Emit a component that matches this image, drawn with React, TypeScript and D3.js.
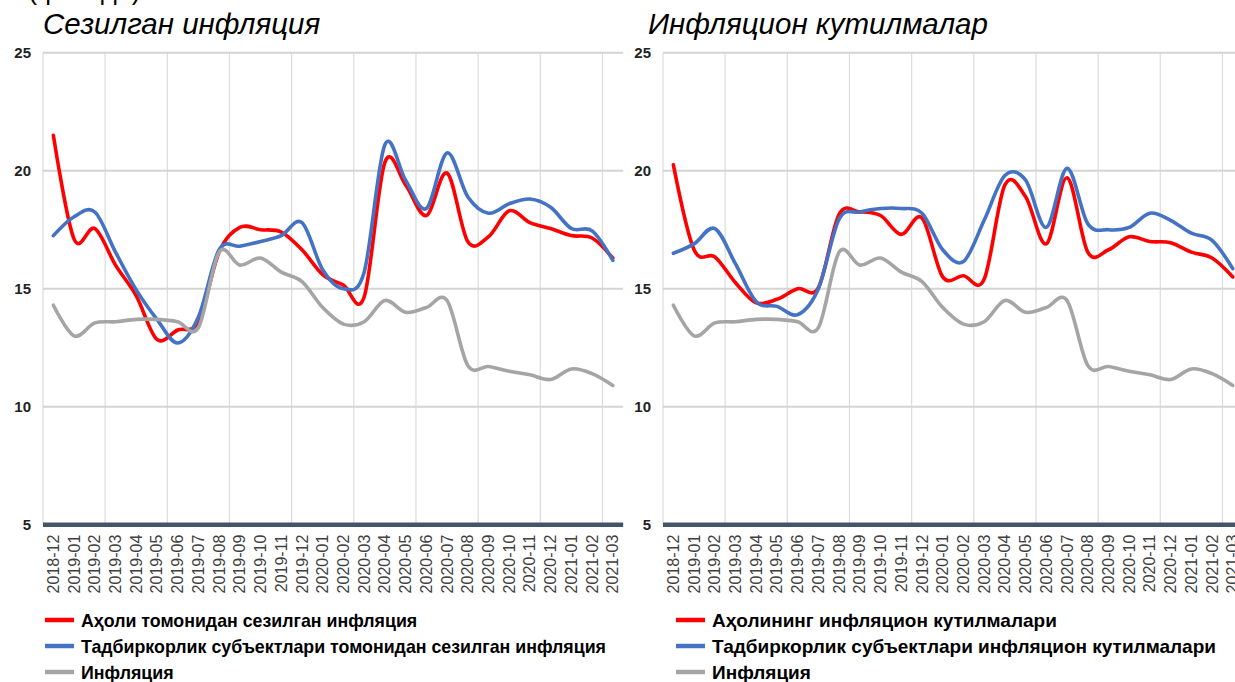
import React from 'react';
import * as d3 from 'd3';

// monthly observations, 2018-12 .. 2021-03
const months = [
  '2018-12', '2019-01', '2019-02', '2019-03', '2019-04', '2019-05', '2019-06',
  '2019-07', '2019-08', '2019-09', '2019-10', '2019-11', '2019-12', '2020-01',
  '2020-02', '2020-03', '2020-04', '2020-05', '2020-06', '2020-07', '2020-08',
  '2020-09', '2020-10', '2020-11', '2020-12', '2021-01', '2021-02', '2021-03',
];

// left panel: perceived inflation
const perceivedHouseholds = [
  21.5, 17.1, 17.55, 16.0, 14.7, 12.85, 13.25, 13.6, 16.55, 17.6, 17.5, 17.4, 16.65, 15.6,
  15.15, 14.65, 20.35, 19.4, 18.1, 19.9, 17.0, 17.2, 18.3, 17.8, 17.55, 17.25, 17.15, 16.3,
];
const perceivedBusiness = [
  17.25, 18.05, 18.25, 16.55, 14.95, 13.7, 12.7, 13.8, 16.65, 16.8, 17.0, 17.25, 17.8, 15.8,
  15.0, 15.7, 21.1, 19.6, 18.4, 20.75, 18.9, 18.2, 18.6, 18.8, 18.45, 17.55, 17.45, 16.2,
];

// right panel: inflation expectations
const expectedHouseholds = [
  20.25, 16.65, 16.35, 15.25, 14.4, 14.55, 15.0, 15.05, 18.15, 18.25, 18.1, 17.3, 18.0, 15.5,
  15.55, 15.4, 19.4, 18.9, 16.9, 19.7, 16.55, 16.65, 17.2, 17.0, 16.95, 16.55, 16.3, 15.5,
];
const expectedBusiness = [
  16.5, 16.9, 17.55, 16.05, 14.45, 14.25, 13.9, 15.0, 17.95, 18.25, 18.4, 18.4, 18.2, 16.65,
  16.15, 17.9, 19.8, 19.6, 17.6, 20.1, 17.75, 17.5, 17.6, 18.2, 17.9, 17.35, 17.05, 15.85,
];

// headline inflation (both panels)
const inflation = [
  14.3, 13.0, 13.55, 13.6, 13.7, 13.7, 13.6, 13.35, 16.55, 16.0, 16.3, 15.7, 15.3, 14.2,
  13.5, 13.6, 14.5, 14.0, 14.2, 14.5, 11.75, 11.7, 11.5, 11.35, 11.15, 11.6, 11.4, 10.9,
];

const yTicks = [5, 10, 15, 20, 25];
const seriesColors = ['#ff0000', '#4472c4', '#a5a5a5'];

const W = 1235;
const H = 682;
const plotTop = 52.7;
const plotBottom = 524.7;
const bandW = 20.72;
const font = 'Arial, "Liberation Sans", sans-serif';

type PanelProps = {
  x0: number;
  titleX: number;
  legendX: number;
  legendSize: number;
  title: string;
  series: number[][];
  labels: string[];
};

function Panel({ x0, titleX, legendX, legendSize, title, series, labels }: PanelProps) {
  const x = d3.scaleBand<string>()
    .domain(months)
    .range([x0, x0 + bandW * months.length]);
  const y = d3.scaleLinear().domain([5, 25]).range([plotBottom, plotTop]);
  const xRight = x0 + bandW * months.length;
  const cx = (m: string) => (x(m) as number) + x.bandwidth() / 2;

  const line = d3.line<number>()
    .x((_, i) => cx(months[i]))
    .y(d => y(d))
    .curve(d3.curveCatmullRom.alpha(0));

  return (
    <g>
      <text x={titleX} y={34} fontFamily={font} fontStyle="italic" fontSize={29.5} fill="#000">
        {title}
      </text>

      {/* vertical grid every 3rd band edge */}
      {months.map((m, i) => i % 3 === 0 ? (
        <line key={'v' + m} x1={x(m)} x2={x(m)} y1={plotTop} y2={plotBottom}
          stroke="#dcdcdc" strokeWidth={1.2} />
      ) : null)}

      {/* horizontal grid */}
      {yTicks.map(t => (
        <g key={'h' + t}>
          <line x1={x0} x2={xRight} y1={y(t)} y2={y(t)} stroke="#d4d4d4" strokeWidth={2} />
          <text x={x0 - 12} y={y(t) + 1} textAnchor="end" dominantBaseline="middle"
            fontFamily={font} fontWeight="bold" fontSize={15} fill="#222">{t}</text>
        </g>
      ))}

      <line x1={x0} x2={xRight} y1={plotBottom} y2={plotBottom} stroke="#44546a" strokeWidth={4.5} />

      {months.map(m => (
        <text key={'x' + m} transform={`translate(${cx(m) + 5.5},${plotBottom + 10}) rotate(-90)`}
          textAnchor="end" fontFamily={font} fontSize={16} fill="#404040">{m}</text>
      ))}

      {series.map((s, k) => (
        <path key={'s' + k} d={line(s) || ''} fill="none" stroke={seriesColors[k]}
          strokeWidth={3.6} strokeLinejoin="round" strokeLinecap="round" />
      ))}

      {labels.map((l, k) => (
        <g key={'l' + k} transform={`translate(${legendX},${620 + k * 26})`}>
          <line x1={0} x2={29} y1={0} y2={0} stroke={seriesColors[k]} strokeWidth={4.5} />
          <text x={36} y={6.5} fontFamily={font} fontWeight="bold" fontSize={legendSize} fill="#000">{l}</text>
        </g>
      ))}
    </g>
  );
}

export default function App() {
  return (
    <svg width={W} height={H} style={{ position: 'absolute', left: 0, top: 0, background: '#fff' }}>
      <text x={28} y={-1} fontFamily={font} fontSize={27} fill="#000">(фоизда)</text>
      <Panel
        x0={43}
        titleX={43}
        legendX={45}
        legendSize={17.8}
        title="Сезилган инфляция"
        series={[perceivedHouseholds, perceivedBusiness, inflation]}
        labels={[
          'Аҳоли томонидан сезилган инфляция',
          'Тадбиркорлик субъектлари томонидан сезилган инфляция',
          'Инфляция',
        ]}
      />
      <Panel
        x0={663}
        titleX={648}
        legendX={676}
        legendSize={19}
        title="Инфляцион кутилмалар"
        series={[expectedHouseholds, expectedBusiness, inflation]}
        labels={[
          'Аҳолининг инфляцион кутилмалари',
          'Тадбиркорлик субъектлари инфляцион кутилмалари',
          'Инфляция',
        ]}
      />
    </svg>
  );
}
